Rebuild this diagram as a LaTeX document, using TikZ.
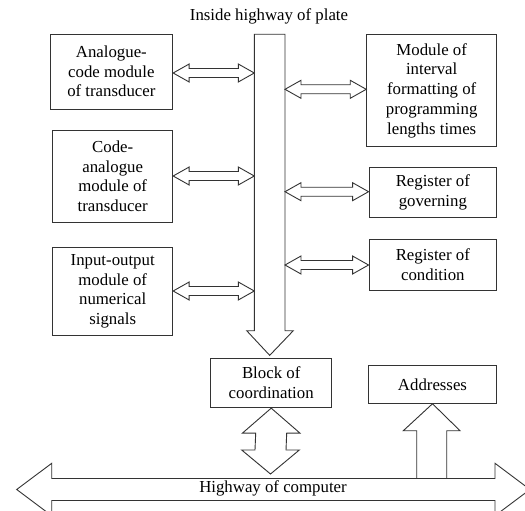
\documentclass[tikz,border=0pt]{standalone}
\usepackage{fontspec}
\setmainfont{Liberation Serif}
\usetikzlibrary{calc}
\tikzset{
  box/.style={draw=black!80, line width=0.9pt, rectangle, inner sep=0pt, align=center,
    font=\fontsize{16.8}{19.75}\selectfont},
  lbl/.style={inner sep=0pt, font=\fontsize{16.8}{19.75}\selectfont},
  blk/.style={draw=black!80, line width=0.9pt, line join=miter, fill=white},
}
\newcommand\hdarr[3]{%
  \draw[blk] let \p1=(#1 |- #3), \p2=(#2 |- #3) in
    (\x1,\y1) -- (\x1+16pt,\y1+9pt) -- (\x1+16pt,\y1+4.5pt) -- (\x2-16pt,\y1+4.5pt)
    -- (\x2-16pt,\y1+9pt) -- (\x2,\y1) -- (\x2-16pt,\y1-9pt) -- (\x2-16pt,\y1-4.5pt)
    -- (\x1+16pt,\y1-4.5pt) -- (\x1+16pt,\y1-9pt) -- cycle;}
\begin{document}
\begin{tikzpicture}[x=1pt,y=-1pt]
\useasboundingbox (0,0) rectangle (525,511);
\clip (0,0) rectangle (525,511);

% title
\node[lbl] (title) at (269,16) {Inside highway of plate};

% left boxes
\node[box, minimum width=122.7pt, minimum height=75pt] (ac) at (111.35,71.5)
  {Analogue-\\code module\\of transducer};
\node[box, minimum width=120pt, minimum height=92.3pt] (ca) at (112.7,176.2)
  {Code-\\analogue\\module of\\transducer};
\node[box, minimum width=120pt, minimum height=88.7pt] (io) at (112.7,291.35)
  {Input-output\\module of\\numerical\\signals};

% right boxes
\node[box, minimum width=130pt, minimum height=112.4pt] (mi) at (431.7,90.5)
  {Module of\\interval\\formatting of\\programming\\lengths times};
\node[box, minimum width=127.7pt, minimum height=49.6pt] (rg) at (432.85,192.5)
  {Register of\\governing};
\node[box, minimum width=127.7pt, minimum height=51pt] (rc) at (432.85,264.5)
  {Register of\\condition};

% bottom boxes
\node[box, minimum width=121pt, minimum height=49.4pt] (bc) at (271.2,383)
  {Block of\\coordination};
\node[box, minimum width=128.4pt, minimum height=37.6pt] (ad) at (432.5,384.5)
  {Addresses};

% internal bus (block arrow)
\coordinate (busL) at (254.3,34.3);
\coordinate (busR) at (285,34.3);
\coordinate (bustip) at ($(bc.north)+(-1.5,-2.5)$);
\draw[blk] (busL) -- (busR) -- (busR |- 0,330.7) -- (293.3,330.7) -- (bustip)
  -- (246.7,330.7) -- (busL |- 0,330.7) -- cycle;

% horizontal double arrows
\coordinate (ya) at (0,73);
\coordinate (yb) at (0,176);
\coordinate (yc) at (0,291);
\coordinate (yd) at (0,89.3);
\coordinate (ye) at (0,191.7);
\coordinate (yf) at (0,265);
\hdarr{ac.east}{busL}{ya}
\hdarr{ca.east}{busL}{yb}
\hdarr{io.east}{busL}{yc}
\hdarr{busR}{mi.west}{yd}
\hdarr{busR}{rg.west}{ye}
\hdarr{busR}{rc.west}{yf}

% arrow from highway up to addresses (drawn before the highway)
\coordinate (atip) at (ad.south);
\draw[blk] (416.7,478.5) -- (416.7,430.7) -- (403.3,430.7) -- (atip)
  -- (460,430.7) -- (446.7,430.7) -- (446.7,478.5) -- cycle;

% highway of computer
\coordinate (hwL) at (16.7,489.5);
\coordinate (hwR) at (530,489.5);
\draw[blk] (hwL) -- (51.7,463.3) -- (51.7,478.5) -- (495,478.5) -- (495,463.3)
  -- (hwR) -- (495,515.7) -- (495,500.5) -- (51.7,500.5) -- (51.7,515.7) -- cycle;
\node[lbl] (hw) at (273,488.5) {Highway of computer};

% double arrow between block of coordination and highway
\coordinate (dtop) at (bc.south);
\coordinate (dbot) at (270.5,474);
\draw[blk] (dtop) -- ($(dtop)+(28.8,25)$) -- ($(dtop)+(15.5,25)$) -- (286,450)
  -- (299.3,450) -- (dbot) -- (241.7,450) -- (255,450) -- ($(dtop)+(-15.5,25)$)
  -- ($(dtop)+(-28.8,25)$) -- cycle;
\end{tikzpicture}
\end{document}
